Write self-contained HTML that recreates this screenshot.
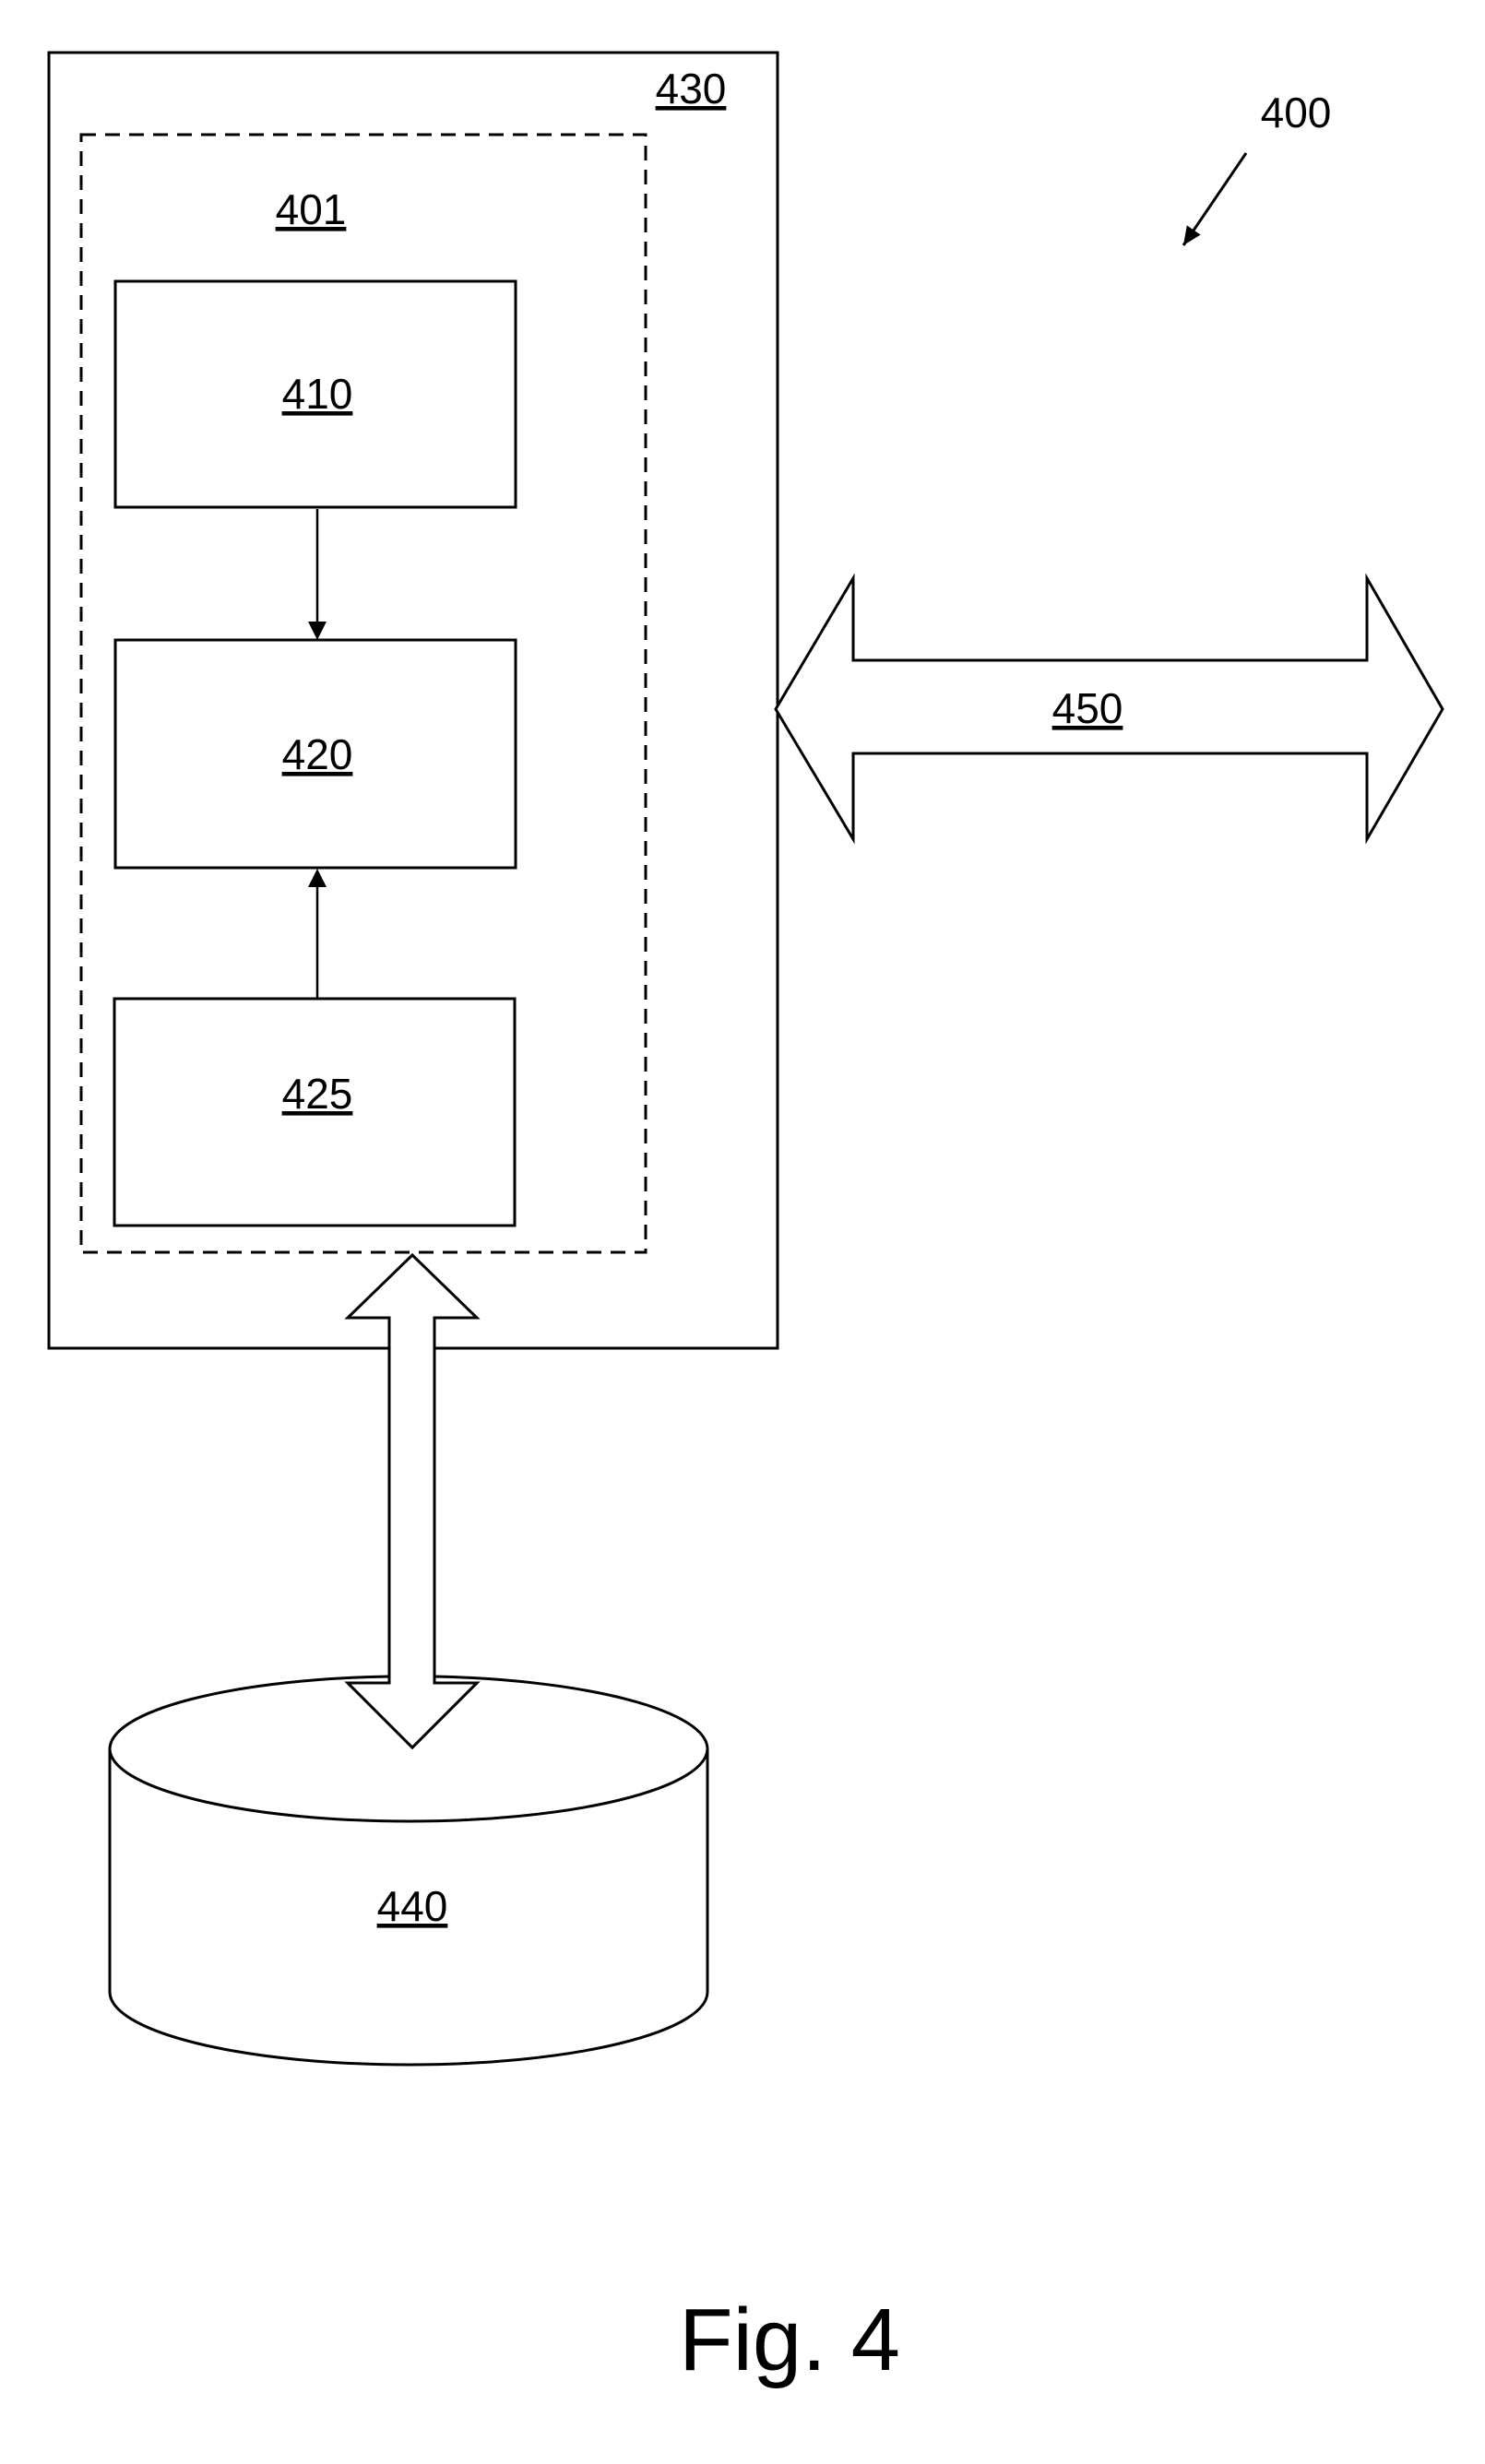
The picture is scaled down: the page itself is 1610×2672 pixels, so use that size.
<!DOCTYPE html>
<html><head><style>
html,body{margin:0;padding:0;background:#fff;}
svg{display:block;}
text{font-family:"Liberation Sans",Arial,sans-serif;fill:#000;}
</style></head><body>
<svg width="1610" height="2672" viewBox="0 0 1610 2672" xmlns="http://www.w3.org/2000/svg">
<defs>
<marker id="ah2" markerWidth="22" markerHeight="22" refX="20" refY="11" orient="auto" markerUnits="userSpaceOnUse">
<path d="M0,2 L20,11 L0,20 z" fill="#000"/>
</marker>
</defs>
<g fill="none" stroke="#000" stroke-width="3">
<rect x="53" y="57" width="790" height="1405"/>
<rect x="88" y="146" width="612" height="1212" stroke-dasharray="16,10"/>
<rect x="125" y="305" width="434" height="245"/>
<rect x="125" y="694" width="434" height="247"/>
<rect x="124" y="1083" width="434" height="246"/>
</g>
<g stroke="#000" stroke-width="2.5" fill="none">
<line x1="344" y1="552" x2="344" y2="676"/>
<line x1="344" y1="1083" x2="344" y2="960"/>
</g>
<path d="M334,674 L354,674 L344,694 z" fill="#000"/>
<path d="M334,962 L354,962 L344,942 z" fill="#000"/>
<path d="M447,1361 L517,1429 L471,1429 L471,1825 L517,1825 L447,1895 L377,1825 L422,1825 L422,1429 L377,1429 z" fill="#fff" stroke="#000" stroke-width="3"/>
<path d="M119,1896 L119,2160 A324,79 0 0 0 767,2160 L767,1896" fill="none" stroke="#000" stroke-width="3"/>
<path d="M422,1818 A324,79 0 0 0 119,1896 A324,79 0 0 0 767,1896 A324,79 0 0 0 471,1818" fill="none" stroke="#000" stroke-width="3"/>
<path d="M422,1818 L422,1825 L377,1825 L447,1895 L517,1825 L471,1825 L471,1818" fill="#fff" stroke="#000" stroke-width="3"/>
<path d="M841,769 L925,627 L925,716 L1482,716 L1482,627 L1564,769 L1482,910 L1482,817 L925,817 L925,910 z" fill="#fff" stroke="#000" stroke-width="3"/>
<line x1="1351" y1="166" x2="1283" y2="266" stroke="#000" stroke-width="3" marker-end="url(#ah2)"/>
<g font-size="46" text-anchor="middle" text-decoration="underline">
<text x="749" y="112">430</text>
<text x="337" y="243">401</text>
<text x="344" y="443">410</text>
<text x="344" y="834">420</text>
<text x="344" y="1202">425</text>
<text x="1179" y="784">450</text>
<text x="447" y="2083">440</text>
</g>
<text x="1405" y="138" font-size="46" text-anchor="middle">400</text>
<text x="856" y="2570" font-size="96" text-anchor="middle">Fig. 4</text>
</svg>
</body></html>
